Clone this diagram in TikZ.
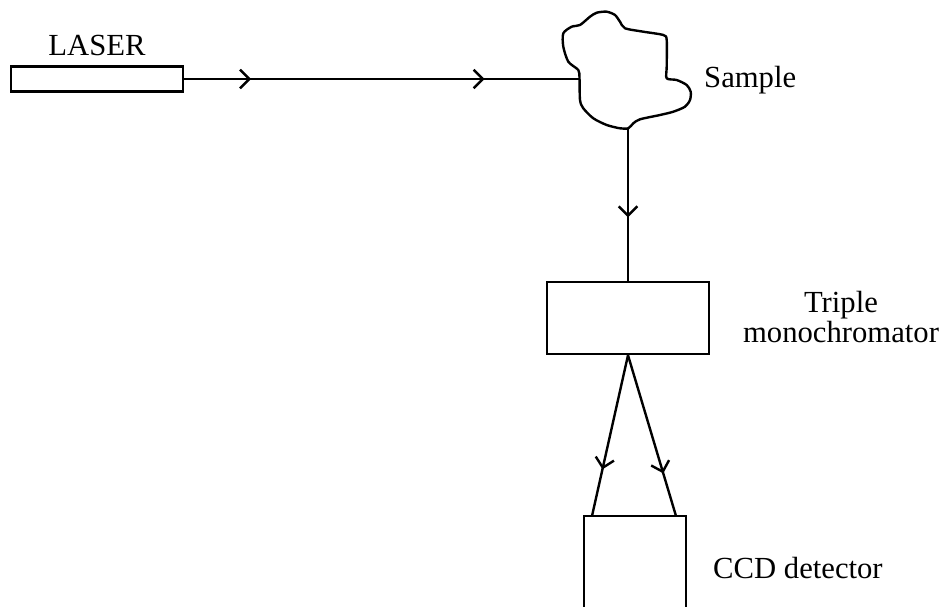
\documentclass[tikz,border=0pt]{standalone}
\usepackage{fontspec}
\setmainfont{Liberation Serif}
\usetikzlibrary{arrows.meta,decorations.markings}
\begin{document}
\begin{tikzpicture}[x=0.75pt,y=-0.75pt, line width=1.8pt,
  box/.style={draw, rectangle, inner sep=0pt},
  lbl/.style={font=\fontsize{23}{20.25}\selectfont, inner sep=0pt},
  midarrow/.style={postaction={decorate, decoration={markings,
      mark=at position #1 with {\arrow{Straight Barb[length=7pt,width=14pt]}}}}}]
\useasboundingbox (0,0) rectangle (943,607);

% laser
\node[box, minimum width=129pt, minimum height=18.75pt] (laser) at (97,79) {};
\node[lbl, anchor=base] (laserlbl) at (97,55) {LASER};

% sample cloud
\draw[line join=round] plot[smooth cycle, tension=0.45] coordinates {
 (579.5,78) (578.3,70) (568.3,61.7) (563.3,46.7) (563.3,33.3) (571.7,26.7)
 (580,25) (590,16.7) (596.7,12.7) (606.7,11.7) (615,15) (620,21.7) (625,28.3)
 (643.3,31.7) (663.3,35) (666.7,40) (666.7,66.7) (666.7,78.3) (676.7,80)
 (686.7,85) (690.7,91.7) (690,100) (685,106.7) (673.3,111.7) (660,115)
 (640,119.3) (633.3,123.3) (628.3,128.3) (620,128.3) (606.7,125) (593.3,118.3)
 (583.3,108.3) (580,100)};
\coordinate (cin) at (579.5,79);
\coordinate (cout) at (628,128.3);
\node[lbl, anchor=base west] (samplelbl) at (703,87) {Sample};

% monochromator
\node[box, minimum width=121.5pt, minimum height=54pt] (mono) at (628,318) {};
\node[lbl, align=center, anchor=base] (monolbl) at (841,342) {Triple\\monochromator};

% CCD detector (open at bottom)
\coordinate (ccdL) at (584,516);
\coordinate (ccdR) at (686,516);
\coordinate (ccdLb) at (584,607);
\coordinate (ccdRb) at (686,607);
\draw (ccdLb) -- (ccdL) -- (ccdR) -- (ccdRb);
\coordinate (inL) at (592,516);
\coordinate (inR) at (676,516);
\node[lbl, anchor=base west] (ccdlbl) at (712,578) {CCD detector};

% beams
\draw[midarrow=0.169, midarrow=0.76] (laser.east) -- (cin);
\draw[midarrow=0.584] (cout) -- (mono.north);
\draw[midarrow=0.71] (mono.south) -- (inL);
\draw[midarrow=0.735] (mono.south) -- (inR);
\end{tikzpicture}
\end{document}
